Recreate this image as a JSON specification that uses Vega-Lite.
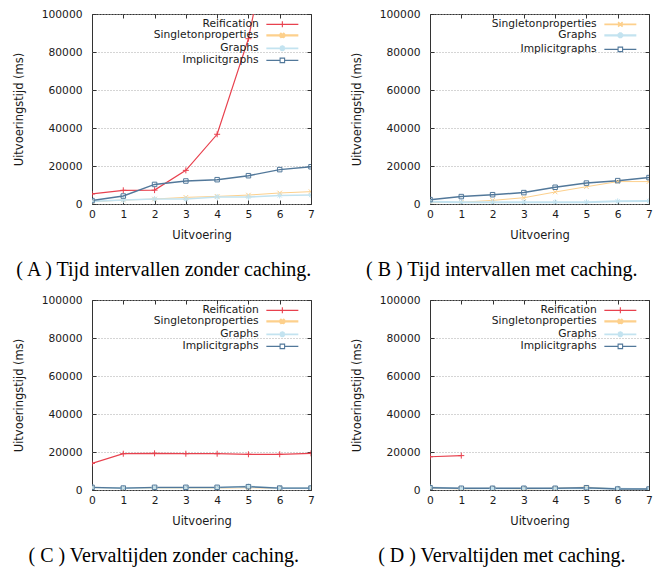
{
  "$schema": "https://vega.github.io/schema/vega-lite/v6.json",
  "padding": {"left": 12, "top": 7, "right": 0, "bottom": 0},
  "background": "white",
  "datasets": {
    "runs": [
      {"p":"A","s":"Reification","x":0,"y":5300},{"p":"A","s":"Reification","x":1,"y":7200},{"p":"A","s":"Reification","x":2,"y":7300},{"p":"A","s":"Reification","x":3,"y":17700},{"p":"A","s":"Reification","x":4,"y":36700},{"p":"A","s":"Reification","x":5,"y":87000},{"p":"A","s":"Reification","x":6,"y":168000},{"p":"A","s":"Reification","x":7,"y":300000},
      {"p":"A","s":"Singletonproperties","x":0,"y":1200},{"p":"A","s":"Singletonproperties","x":1,"y":2100},{"p":"A","s":"Singletonproperties","x":2,"y":2600},{"p":"A","s":"Singletonproperties","x":3,"y":3500},{"p":"A","s":"Singletonproperties","x":4,"y":4000},{"p":"A","s":"Singletonproperties","x":5,"y":4700},{"p":"A","s":"Singletonproperties","x":6,"y":5800},{"p":"A","s":"Singletonproperties","x":7,"y":6500},
      {"p":"A","s":"Graphs","x":0,"y":1400},{"p":"A","s":"Graphs","x":1,"y":2100},{"p":"A","s":"Graphs","x":2,"y":2600},{"p":"A","s":"Graphs","x":3,"y":2600},{"p":"A","s":"Graphs","x":4,"y":3700},{"p":"A","s":"Graphs","x":5,"y":3700},{"p":"A","s":"Graphs","x":6,"y":4500},{"p":"A","s":"Graphs","x":7,"y":4700},
      {"p":"A","s":"Implicitgraphs","x":0,"y":1800},{"p":"A","s":"Implicitgraphs","x":1,"y":4200},{"p":"A","s":"Implicitgraphs","x":2,"y":10300},{"p":"A","s":"Implicitgraphs","x":3,"y":12100},{"p":"A","s":"Implicitgraphs","x":4,"y":12800},{"p":"A","s":"Implicitgraphs","x":5,"y":14900},{"p":"A","s":"Implicitgraphs","x":6,"y":18100},{"p":"A","s":"Implicitgraphs","x":7,"y":19600},
      {"p":"B","s":"Singletonproperties","x":0,"y":700},{"p":"B","s":"Singletonproperties","x":1,"y":900},{"p":"B","s":"Singletonproperties","x":2,"y":1900},{"p":"B","s":"Singletonproperties","x":3,"y":3300},{"p":"B","s":"Singletonproperties","x":4,"y":6300},{"p":"B","s":"Singletonproperties","x":5,"y":9100},{"p":"B","s":"Singletonproperties","x":6,"y":11800},{"p":"B","s":"Singletonproperties","x":7,"y":11800},
      {"p":"B","s":"Graphs","x":0,"y":1200},{"p":"B","s":"Graphs","x":1,"y":900},{"p":"B","s":"Graphs","x":2,"y":900},{"p":"B","s":"Graphs","x":3,"y":900},{"p":"B","s":"Graphs","x":4,"y":900},{"p":"B","s":"Graphs","x":5,"y":900},{"p":"B","s":"Graphs","x":6,"y":1400},{"p":"B","s":"Graphs","x":7,"y":1600},
      {"p":"B","s":"Implicitgraphs","x":0,"y":2300},{"p":"B","s":"Implicitgraphs","x":1,"y":3900},{"p":"B","s":"Implicitgraphs","x":2,"y":4900},{"p":"B","s":"Implicitgraphs","x":3,"y":6000},{"p":"B","s":"Implicitgraphs","x":4,"y":8800},{"p":"B","s":"Implicitgraphs","x":5,"y":11000},{"p":"B","s":"Implicitgraphs","x":6,"y":12300},{"p":"B","s":"Implicitgraphs","x":7,"y":13900},
      {"p":"C","s":"Reification","x":0,"y":14000},{"p":"C","s":"Reification","x":1,"y":19100},{"p":"C","s":"Reification","x":2,"y":19300},{"p":"C","s":"Reification","x":3,"y":19100},{"p":"C","s":"Reification","x":4,"y":19100},{"p":"C","s":"Reification","x":5,"y":18800},{"p":"C","s":"Reification","x":6,"y":18800},{"p":"C","s":"Reification","x":7,"y":19300},
      {"p":"C","s":"Singletonproperties","x":0,"y":1300},{"p":"C","s":"Singletonproperties","x":1,"y":900},{"p":"C","s":"Singletonproperties","x":2,"y":1000},{"p":"C","s":"Singletonproperties","x":3,"y":1000},{"p":"C","s":"Singletonproperties","x":4,"y":1000},{"p":"C","s":"Singletonproperties","x":5,"y":1200},{"p":"C","s":"Singletonproperties","x":6,"y":900},{"p":"C","s":"Singletonproperties","x":7,"y":900},
      {"p":"C","s":"Graphs","x":0,"y":1300},{"p":"C","s":"Graphs","x":1,"y":1000},{"p":"C","s":"Graphs","x":2,"y":1200},{"p":"C","s":"Graphs","x":3,"y":1200},{"p":"C","s":"Graphs","x":4,"y":1200},{"p":"C","s":"Graphs","x":5,"y":1900},{"p":"C","s":"Graphs","x":6,"y":1000},{"p":"C","s":"Graphs","x":7,"y":1000},
      {"p":"C","s":"Implicitgraphs","x":0,"y":1400},{"p":"C","s":"Implicitgraphs","x":1,"y":1000},{"p":"C","s":"Implicitgraphs","x":2,"y":1400},{"p":"C","s":"Implicitgraphs","x":3,"y":1400},{"p":"C","s":"Implicitgraphs","x":4,"y":1400},{"p":"C","s":"Implicitgraphs","x":5,"y":1750},{"p":"C","s":"Implicitgraphs","x":6,"y":1000},{"p":"C","s":"Implicitgraphs","x":7,"y":1000},
      {"p":"D","s":"Reification","x":0,"y":17500},{"p":"D","s":"Reification","x":1,"y":18100},
      {"p":"D","s":"Singletonproperties","x":0,"y":1000},{"p":"D","s":"Singletonproperties","x":1,"y":600},{"p":"D","s":"Singletonproperties","x":2,"y":900},{"p":"D","s":"Singletonproperties","x":3,"y":600},{"p":"D","s":"Singletonproperties","x":4,"y":900},{"p":"D","s":"Singletonproperties","x":5,"y":1500},{"p":"D","s":"Singletonproperties","x":6,"y":500},{"p":"D","s":"Singletonproperties","x":7,"y":400},
      {"p":"D","s":"Graphs","x":0,"y":1400},{"p":"D","s":"Graphs","x":1,"y":800},{"p":"D","s":"Graphs","x":2,"y":800},{"p":"D","s":"Graphs","x":3,"y":800},{"p":"D","s":"Graphs","x":4,"y":800},{"p":"D","s":"Graphs","x":5,"y":1000},{"p":"D","s":"Graphs","x":6,"y":700},{"p":"D","s":"Graphs","x":7,"y":500},
      {"p":"D","s":"Implicitgraphs","x":0,"y":1200},{"p":"D","s":"Implicitgraphs","x":1,"y":900},{"p":"D","s":"Implicitgraphs","x":2,"y":900},{"p":"D","s":"Implicitgraphs","x":3,"y":900},{"p":"D","s":"Implicitgraphs","x":4,"y":900},{"p":"D","s":"Implicitgraphs","x":5,"y":1200},{"p":"D","s":"Implicitgraphs","x":6,"y":500},{"p":"D","s":"Implicitgraphs","x":7,"y":500}
    ]
  },
  "data": {"name": "runs"},
  "spacing": 12,
  "resolve": {"scale": {"color": "independent", "shape": "independent", "strokeWidth": "independent", "x": "independent", "y": "independent"}, "legend": {"color": "independent", "shape": "independent", "strokeWidth": "independent"}},
  "vconcat": [
    {
      "spacing": 35,
      "resolve": {"scale": {"color": "independent", "shape": "independent", "strokeWidth": "independent", "x": "independent", "y": "independent"}, "legend": {"color": "independent", "shape": "independent", "strokeWidth": "independent"}},
      "hconcat": [
        {
          "width": 219, "height": 190,
          "title": {"text": "( A ) Tijd intervallen zonder caching."},
          "transform": [{"filter": "datum.p === 'A'"}],
          "encoding": {
            "x": {"field": "x", "type": "quantitative", "scale": {"domain": [0, 7], "nice": false}},
            "y": {"field": "y", "type": "quantitative", "scale": {"domain": [0, 100000], "nice": false}},
            "color": {"field": "s", "type": "nominal", "scale": {"domain": ["Reification", "Singletonproperties", "Graphs", "Implicitgraphs"], "range": ["#e8414e", "#fdd08c", "#c3e3f0", "#52789a"]},
              "legend": {"orient": "none", "legendX": 185, "legendY": 5, "direction": "vertical", "title": null,
                "labelAlign": "right", "labelOffset": -29, "symbolSize": 36, "padding": 0, "rowPadding": -4,
                "labelFont": "DejaVu Sans", "labelFontSize": 10.7, "labelColor": "#1a1a1a", "labelLimit": 0,
                "encode": {"symbols": {"update": {
                  "shape": {"signal": "datum.value === 'Reification' ? 'M-5.33,0H5.33M0,-1V1' : datum.value === 'Singletonproperties' ? 'M-5.33,0H5.33M-0.75,-0.75L0.75,0.75M-0.75,0.75L0.75,-0.75' : datum.value === 'Graphs' ? 'M-5.33,0H5.33M0,-1V1M-0.7,-0.7L0.7,0.7M-0.7,0.7L0.7,-0.7' : 'M-5.33,0H-0.75M0.75,0H5.33M-0.75,-0.75H0.75V0.75H-0.75Z'"},
                  "fill": {"value": "transparent"},
                  "strokeWidth": {"signal": "datum.value === 'Singletonproperties' ? 2.4 : datum.value === 'Graphs' ? 1.8 : 1.1"}}}}}}
          },
          "resolve": {"axis": {"x": "independent", "y": "independent"}},
          "layer": [
            {"mark": {"type": "line", "clip": true},
             "encoding": {
               "x": {"field": "x", "type": "quantitative", "axis": {"orient": "bottom", "title": "Uitvoering", "values": [0,1,2,3,4,5,6,7]}},
               "y": {"field": "y", "type": "quantitative", "axis": {"orient": "left", "title": "Uitvoeringstijd (ms)", "values": [0,20000,40000,60000,80000,100000], "grid": true, "format": "d"}},
               "strokeWidth": {"field": "s", "type": "nominal", "scale": {"domain": ["Graphs", "Implicitgraphs", "Reification", "Singletonproperties"], "range": [1.6, 1, 1, 2]}, "legend": null}
             }},
            {"mark": {"type": "point", "clip": true, "filled": false, "size": 36, "strokeWidth": 1, "opacity": 1},
             "encoding": {
               "x": {"field": "x", "type": "quantitative", "axis": {"orient": "top", "title": null, "labels": false, "values": [0,1,2,3,4,5,6,7]}},
               "y": {"field": "y", "type": "quantitative", "axis": {"orient": "right", "title": null, "labels": false, "values": [0,20000,40000,60000,80000,100000]}},
               "shape": {"field": "s", "type": "nominal", "scale": {"domain": ["Graphs", "Implicitgraphs", "Reification", "Singletonproperties"], "range": ["M-1,0H1M0,-1V1M-0.7,-0.7L0.7,0.7M-0.7,0.7L0.7,-0.7", "M-0.75,-0.75H0.75V0.75H-0.75Z", "M-1,0H1M0,-1V1", "M-0.75,-0.75L0.75,0.75M-0.75,0.75L0.75,-0.75"]}, "legend": null}
             }}
          ]
        },
        {
          "width": 219, "height": 190,
          "title": {"text": "( B ) Tijd intervallen met caching."},
          "transform": [{"filter": "datum.p === 'B'"}],
          "encoding": {
            "x": {"field": "x", "type": "quantitative", "scale": {"domain": [0, 7], "nice": false}},
            "y": {"field": "y", "type": "quantitative", "scale": {"domain": [0, 100000], "nice": false}},
            "color": {"field": "s", "type": "nominal", "scale": {"domain": ["Singletonproperties", "Graphs", "Implicitgraphs"], "range": ["#fdd08c", "#c3e3f0", "#52789a"]},
              "legend": {"orient": "none", "legendX": 185, "legendY": 5, "direction": "vertical", "title": null,
                "labelAlign": "right", "labelOffset": -29, "symbolSize": 36, "padding": 0, "rowPadding": -4,
                "labelFont": "DejaVu Sans", "labelFontSize": 10.7, "labelColor": "#1a1a1a", "labelLimit": 0,
                "encode": {"symbols": {"update": {
                  "shape": {"signal": "datum.value === 'Singletonproperties' ? 'M-5.33,0H5.33M-0.75,-0.75L0.75,0.75M-0.75,0.75L0.75,-0.75' : datum.value === 'Graphs' ? 'M-5.33,0H5.33M0,-1V1M-0.7,-0.7L0.7,0.7M-0.7,0.7L0.7,-0.7' : 'M-5.33,0H-0.75M0.75,0H5.33M-0.75,-0.75H0.75V0.75H-0.75Z'"},
                  "fill": {"value": "transparent"},
                  "strokeWidth": {"signal": "datum.value === 'Singletonproperties' ? 1.6 : datum.value === 'Graphs' ? 2.4 : 1.1"}}}}}}
          },
          "resolve": {"axis": {"x": "independent", "y": "independent"}},
          "layer": [
            {"mark": {"type": "line", "clip": true},
             "encoding": {
               "x": {"field": "x", "type": "quantitative", "axis": {"orient": "bottom", "title": "Uitvoering", "values": [0,1,2,3,4,5,6,7]}},
               "y": {"field": "y", "type": "quantitative", "axis": {"orient": "left", "title": "Uitvoeringstijd (ms)", "values": [0,20000,40000,60000,80000,100000], "grid": true, "format": "d"}},
               "strokeWidth": {"field": "s", "type": "nominal", "scale": {"domain": ["Graphs", "Implicitgraphs", "Singletonproperties"], "range": [2, 1, 1.6]}, "legend": null}
             }},
            {"mark": {"type": "point", "clip": true, "filled": false, "size": 36, "strokeWidth": 1, "opacity": 1},
             "encoding": {
               "x": {"field": "x", "type": "quantitative", "axis": {"orient": "top", "title": null, "labels": false, "values": [0,1,2,3,4,5,6,7]}},
               "y": {"field": "y", "type": "quantitative", "axis": {"orient": "right", "title": null, "labels": false, "values": [0,20000,40000,60000,80000,100000]}},
               "shape": {"field": "s", "type": "nominal", "scale": {"domain": ["Graphs", "Implicitgraphs", "Singletonproperties"], "range": ["M-1,0H1M0,-1V1M-0.7,-0.7L0.7,0.7M-0.7,0.7L0.7,-0.7", "M-0.75,-0.75H0.75V0.75H-0.75Z", "M-0.75,-0.75L0.75,0.75M-0.75,0.75L0.75,-0.75"]}, "legend": null}
             }}
          ]
        }
      ]
    },
    {
      "spacing": 35,
      "resolve": {"scale": {"color": "independent", "shape": "independent", "strokeWidth": "independent", "x": "independent", "y": "independent"}, "legend": {"color": "independent", "shape": "independent", "strokeWidth": "independent"}},
      "hconcat": [
        {
          "width": 219, "height": 190,
          "title": {"text": "( C ) Vervaltijden zonder caching."},
          "transform": [{"filter": "datum.p === 'C'"}],
          "encoding": {
            "x": {"field": "x", "type": "quantitative", "scale": {"domain": [0, 7], "nice": false}},
            "y": {"field": "y", "type": "quantitative", "scale": {"domain": [0, 100000], "nice": false}},
            "color": {"field": "s", "type": "nominal", "scale": {"domain": ["Reification", "Singletonproperties", "Graphs", "Implicitgraphs"], "range": ["#e8414e", "#fdd08c", "#c3e3f0", "#52789a"]},
              "legend": {"orient": "none", "legendX": 185, "legendY": 5, "direction": "vertical", "title": null,
                "labelAlign": "right", "labelOffset": -29, "symbolSize": 36, "padding": 0, "rowPadding": -4,
                "labelFont": "DejaVu Sans", "labelFontSize": 10.7, "labelColor": "#1a1a1a", "labelLimit": 0,
                "encode": {"symbols": {"update": {
                  "shape": {"signal": "datum.value === 'Reification' ? 'M-5.33,0H5.33M0,-1V1' : datum.value === 'Singletonproperties' ? 'M-5.33,0H5.33M-0.75,-0.75L0.75,0.75M-0.75,0.75L0.75,-0.75' : datum.value === 'Graphs' ? 'M-5.33,0H5.33M0,-1V1M-0.7,-0.7L0.7,0.7M-0.7,0.7L0.7,-0.7' : 'M-5.33,0H-0.75M0.75,0H5.33M-0.75,-0.75H0.75V0.75H-0.75Z'"},
                  "fill": {"value": "transparent"},
                  "strokeWidth": {"signal": "datum.value === 'Singletonproperties' ? 2.4 : datum.value === 'Graphs' ? 1.8 : 1.1"}}}}}}
          },
          "resolve": {"axis": {"x": "independent", "y": "independent"}},
          "layer": [
            {"mark": {"type": "line", "clip": true},
             "encoding": {
               "x": {"field": "x", "type": "quantitative", "axis": {"orient": "bottom", "title": "Uitvoering", "values": [0,1,2,3,4,5,6,7]}},
               "y": {"field": "y", "type": "quantitative", "axis": {"orient": "left", "title": "Uitvoeringstijd (ms)", "values": [0,20000,40000,60000,80000,100000], "grid": true, "format": "d"}},
               "strokeWidth": {"field": "s", "type": "nominal", "scale": {"domain": ["Graphs", "Implicitgraphs", "Reification", "Singletonproperties"], "range": [1.6, 1, 1, 2]}, "legend": null}
             }},
            {"mark": {"type": "point", "clip": true, "filled": false, "size": 36, "strokeWidth": 1, "opacity": 1},
             "encoding": {
               "x": {"field": "x", "type": "quantitative", "axis": {"orient": "top", "title": null, "labels": false, "values": [0,1,2,3,4,5,6,7]}},
               "y": {"field": "y", "type": "quantitative", "axis": {"orient": "right", "title": null, "labels": false, "values": [0,20000,40000,60000,80000,100000]}},
               "shape": {"field": "s", "type": "nominal", "scale": {"domain": ["Graphs", "Implicitgraphs", "Reification", "Singletonproperties"], "range": ["M-1,0H1M0,-1V1M-0.7,-0.7L0.7,0.7M-0.7,0.7L0.7,-0.7", "M-0.75,-0.75H0.75V0.75H-0.75Z", "M-1,0H1M0,-1V1", "M-0.75,-0.75L0.75,0.75M-0.75,0.75L0.75,-0.75"]}, "legend": null}
             }}
          ]
        },
        {
          "width": 219, "height": 190,
          "title": {"text": "( D ) Vervaltijden met caching."},
          "transform": [{"filter": "datum.p === 'D'"}],
          "encoding": {
            "x": {"field": "x", "type": "quantitative", "scale": {"domain": [0, 7], "nice": false}},
            "y": {"field": "y", "type": "quantitative", "scale": {"domain": [0, 100000], "nice": false}},
            "color": {"field": "s", "type": "nominal", "scale": {"domain": ["Reification", "Singletonproperties", "Graphs", "Implicitgraphs"], "range": ["#e8414e", "#fdd08c", "#c3e3f0", "#52789a"]},
              "legend": {"orient": "none", "legendX": 185, "legendY": 5, "direction": "vertical", "title": null,
                "labelAlign": "right", "labelOffset": -29, "symbolSize": 36, "padding": 0, "rowPadding": -4,
                "labelFont": "DejaVu Sans", "labelFontSize": 10.7, "labelColor": "#1a1a1a", "labelLimit": 0,
                "encode": {"symbols": {"update": {
                  "shape": {"signal": "datum.value === 'Reification' ? 'M-5.33,0H5.33M0,-1V1' : datum.value === 'Singletonproperties' ? 'M-5.33,0H5.33M-0.75,-0.75L0.75,0.75M-0.75,0.75L0.75,-0.75' : datum.value === 'Graphs' ? 'M-5.33,0H5.33M0,-1V1M-0.7,-0.7L0.7,0.7M-0.7,0.7L0.7,-0.7' : 'M-5.33,0H-0.75M0.75,0H5.33M-0.75,-0.75H0.75V0.75H-0.75Z'"},
                  "fill": {"value": "transparent"},
                  "strokeWidth": {"signal": "datum.value === 'Singletonproperties' ? 2.4 : datum.value === 'Graphs' ? 1.8 : 1.1"}}}}}}
          },
          "resolve": {"axis": {"x": "independent", "y": "independent"}},
          "layer": [
            {"mark": {"type": "line", "clip": true},
             "encoding": {
               "x": {"field": "x", "type": "quantitative", "axis": {"orient": "bottom", "title": "Uitvoering", "values": [0,1,2,3,4,5,6,7]}},
               "y": {"field": "y", "type": "quantitative", "axis": {"orient": "left", "title": "Uitvoeringstijd (ms)", "values": [0,20000,40000,60000,80000,100000], "grid": true, "format": "d"}},
               "strokeWidth": {"field": "s", "type": "nominal", "scale": {"domain": ["Graphs", "Implicitgraphs", "Reification", "Singletonproperties"], "range": [1.6, 1, 1, 2]}, "legend": null}
             }},
            {"mark": {"type": "point", "clip": true, "filled": false, "size": 36, "strokeWidth": 1, "opacity": 1},
             "encoding": {
               "x": {"field": "x", "type": "quantitative", "axis": {"orient": "top", "title": null, "labels": false, "values": [0,1,2,3,4,5,6,7]}},
               "y": {"field": "y", "type": "quantitative", "axis": {"orient": "right", "title": null, "labels": false, "values": [0,20000,40000,60000,80000,100000]}},
               "shape": {"field": "s", "type": "nominal", "scale": {"domain": ["Graphs", "Implicitgraphs", "Reification", "Singletonproperties"], "range": ["M-1,0H1M0,-1V1M-0.7,-0.7L0.7,0.7M-0.7,0.7L0.7,-0.7", "M-0.75,-0.75H0.75V0.75H-0.75Z", "M-1,0H1M0,-1V1", "M-0.75,-0.75L0.75,0.75M-0.75,0.75L0.75,-0.75"]}, "legend": null}
             }}
          ]
        }
      ]
    }
  ],
  "config": {
    "view": {"stroke": "#333", "strokeWidth": 1},
    "axis": {
      "labelFont": "DejaVu Sans", "labelFontSize": 10.7, "labelColor": "#1a1a1a",
      "titleFont": "DejaVu Sans", "titleFontSize": 11.5, "titleFontWeight": "normal", "titleColor": "#1a1a1a",
      "domain": false, "grid": false, "ticks": true, "tickSize": -4, "tickColor": "#333", "tickWidth": 1,
      "gridColor": "#aaaaaa", "gridDash": [1, 2], "gridWidth": 1
    },
    "axisX": {"labelPadding": 9.5, "titlePadding": 10, "labelFlush": false},
    "axisY": {"labelPadding": 14, "titlePadding": 17, "labelFlush": false},
    "title": {"orient": "bottom", "anchor": "middle", "frame": "bounds", "font": "Liberation Serif", "fontSize": 20, "fontWeight": "normal", "color": "#000", "offset": 19}
  }
}
